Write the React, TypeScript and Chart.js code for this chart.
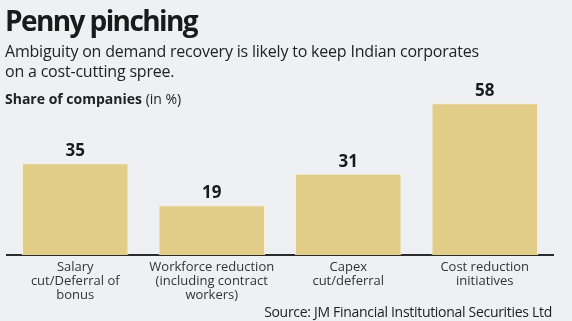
import React, { useEffect, useRef } from "react";
import { Chart, registerables } from "chart.js";

Chart.register(...registerables);

const categories: string[][] = [
  ["Salary", "cut/Deferral of", "bonus"],
  ["Workforce reduction", "(including contract", "workers)"],
  ["Capex", "cut/deferral"],
  ["Cost reduction", "initiatives"],
];
const shareValues: number[] = [35, 19, 31, 58];

const FONT = "'Open Sans', 'Noto Sans', sans-serif";

const valueLabels = {
  id: "valueLabels",
  afterDatasetsDraw(chart: any) {
    const ctx = chart.ctx;
    const meta = chart.getDatasetMeta(0);
    ctx.save();
    ctx.font = `bold 17px ${FONT}`;
    ctx.fillStyle = "#1a1a1a";
    ctx.textAlign = "center";
    ctx.textBaseline = "middle";
    meta.data.forEach((bar: any, i: number) => {
      ctx.fillText(String(shareValues[i]), bar.x, bar.y - 12);
    });
    ctx.restore();
  },
};

export default function App() {
  const ref = useRef<HTMLCanvasElement | null>(null);
  useEffect(() => {
    document.body.style.margin = "0";
    if (!ref.current) return;
    const chart = new Chart(ref.current, {
      type: "bar",
      data: {
        labels: categories,
        datasets: [
          {
            data: shareValues,
            backgroundColor: "#e2cd88",
            borderColor: "#f6efd6",
            borderWidth: 1,
            barPercentage: 0.78,
            categoryPercentage: 1,
          },
        ],
      },
      options: {
        animation: false,
        responsive: false,
        maintainAspectRatio: false,
        layout: { padding: { left: 7, right: 19, top: 98, bottom: 14 } },
        plugins: {
          legend: { display: false },
          tooltip: { enabled: false },
          title: { display: false },
        },
        scales: {
          x: {
            grid: { display: false, drawTicks: false },
            border: { display: true, color: "#2b2b2b", width: 2 },
            ticks: {
              color: "#333333",
              font: { family: FONT, size: 13, lineHeight: 1.08 },
              padding: 5,
              maxRotation: 0,
              autoSkip: false,
            },
          },
          y: {
            display: false,
            min: 0,
            max: 60,
          },
        },
      },
      plugins: [valueLabels],
    });
    return () => chart.destroy();
  }, []);

  return (
    <div
      style={{
        position: "relative",
        width: 572,
        height: 321,
        background: "#eef0f3",
        overflow: "hidden",
        fontFamily: FONT,
      }}
    >
      <canvas
        ref={ref}
        width={572}
        height={321}
        style={{ position: "absolute", left: 0, top: 0 }}
      />
      <div
        style={{
          position: "absolute",
          left: 5,
          top: 0,
          fontSize: 28,
          fontWeight: 700,
          color: "#1a1a1a",
          letterSpacing: -1.6,
          lineHeight: "40px",
        }}
      >
        Penny pinching
      </div>
      <div
        style={{
          position: "absolute",
          left: 5,
          top: 41,
          fontSize: 16,
          color: "#222",
          lineHeight: "20px",
          width: 560,
          letterSpacing: -0.2,
        }}
      >
        Ambiguity on demand recovery is likely to keep Indian corporates
        <br />
        on a cost-cutting spree.
      </div>
      <div
        style={{
          position: "absolute",
          left: 5,
          top: 89,
          fontSize: 14,
          color: "#222",
          lineHeight: "20px",
        }}
      >
        <span style={{ fontWeight: 700 }}>Share of companies</span> (in %)
      </div>
      <div
        style={{
          position: "absolute",
          right: 20,
          top: 302,
          fontSize: 14,
          color: "#222",
          lineHeight: "20px",
          letterSpacing: -0.3,
        }}
      >
        Source: JM Financial Institutional Securities Ltd
      </div>
    </div>
  );
}
